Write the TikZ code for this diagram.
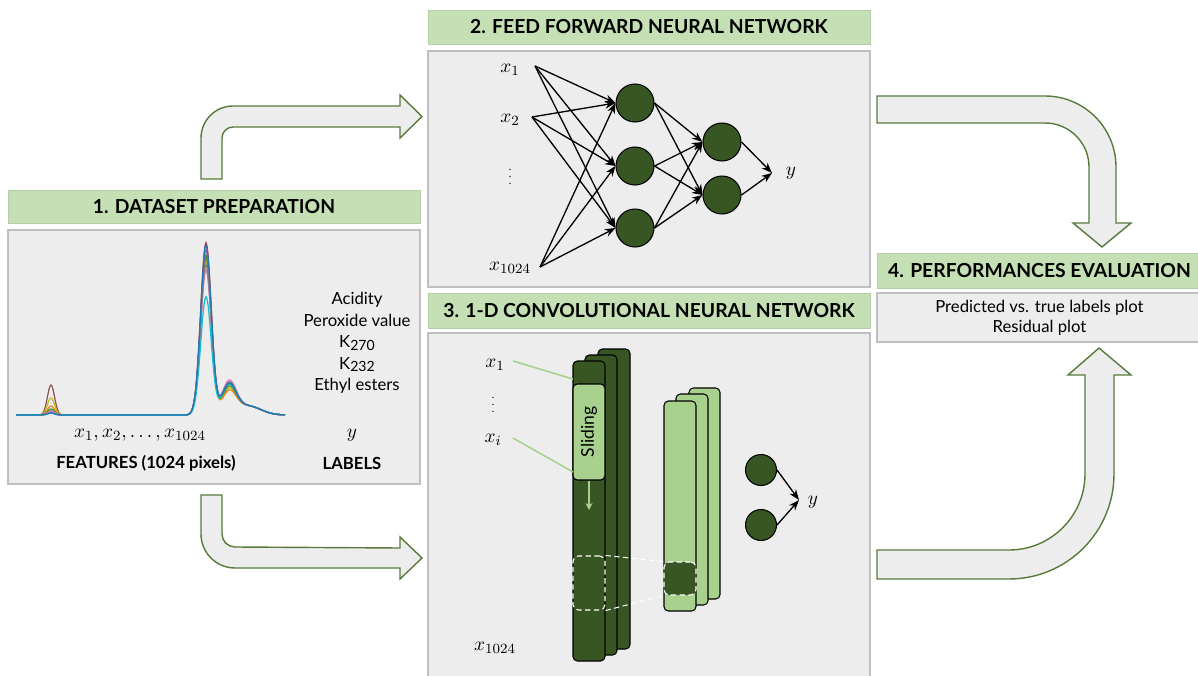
\documentclass[tikz,border=0pt]{standalone}
\usepackage{fontspec}
\setmainfont{Lato}
\usetikzlibrary{arrows.meta}
\definecolor{vertentete}{HTML}{C5E0B4}
\definecolor{vertfonce}{HTML}{375623}
\definecolor{vertclair}{HTML}{A9D18E}
\definecolor{fondgris}{HTML}{EDEDED}
\definecolor{bordgris}{HTML}{BFBFBF}
\definecolor{bordfleche}{HTML}{587A3C}
\definecolor{tbleu}{HTML}{1F77B4}
\definecolor{torange}{HTML}{FF7F0E}
\definecolor{tvert}{HTML}{2CA02C}
\definecolor{trouge}{HTML}{D62728}
\definecolor{tviolet}{HTML}{9467BD}
\definecolor{tbrun}{HTML}{8C564B}
\definecolor{trose}{HTML}{E377C2}
\definecolor{tgris}{HTML}{7F7F7F}
\definecolor{tolive}{HTML}{BCBD22}
\definecolor{tcyan}{HTML}{17BECF}
\begin{document}
\begin{tikzpicture}[x=0.02cm, y=-0.02cm, >={Stealth[length=6pt, width=4.5pt]}]
\tikzstyle{entete}=[fill=vertentete, draw=vertentete!80!gray, inner sep=0, font=\bfseries\fontsize{11}{13}\selectfont];
\tikzstyle{cadre}=[fill=fondgris, draw=bordgris, line width=0.8pt, inner sep=0];
\tikzstyle{texte}=[font=\fontsize{9.5}{12.2}\selectfont, align=center];
\tikzstyle{gras}=[font=\bfseries\fontsize{9.5}{12}\selectfont];
\tikzstyle{maths}=[font=\fontsize{11}{12}\selectfont, inner sep=1pt];
\tikzstyle{points}=[font=\fontsize{6}{6}\selectfont, inner sep=0];
\tikzstyle{fleche}=[fill=fondgris, draw=bordfleche, line width=0.8pt, line join=miter];
\tikzstyle{noeud}=[draw, circle, fill=vertfonce, line width=0.6pt, minimum size=0.76cm, inner sep=0];
\tikzstyle{lien}=[->, line width=0.75pt];
\tikzstyle{colfonce}=[draw, fill=vertfonce, rounded corners=2.5pt, line width=0.6pt];
\tikzstyle{colclaire}=[draw, fill=vertclair, rounded corners=2.5pt, line width=0.6pt];
\tikzstyle{pointille}=[draw=white, dash pattern=on 3pt off 2pt, line width=0.6pt];
\useasboundingbox (0,0) rectangle (1198,676);

% cadres
\node[entete, minimum width=8.24cm, minimum height=0.66cm] (t1) at (214,206.5) {1. DATASET PREPARATION};
\node[cadre, minimum width=8.24cm, minimum height=5.08cm] (b1) at (214,357) {};
\node[entete, minimum width=8.84cm, minimum height=0.68cm] (t2) at (649,27) {2. FEED FORWARD NEURAL NETWORK};
\node[cadre, minimum width=8.84cm, minimum height=4.72cm] (b2) at (649,169) {};
\node[entete, minimum width=8.84cm, minimum height=0.7cm] (t3) at (649,310.5) {3. 1-D CONVOLUTIONAL NEURAL NETWORK};
\node[cadre, minimum width=8.84cm, minimum height=6.94cm] (b3) at (649,506.5) {};
\node[entete, minimum width=6.5cm, minimum height=0.7cm] (t4) at (1039.5,270.5) {4. PERFORMANCES EVALUATION};
\node[cadre, texte, minimum width=6.5cm, minimum height=0.98cm, font=\fontsize{9.5}{11.3}\selectfont] (perf) at (1039.5,317.5) {Predicted vs. true labels plot\\Residual plot};

% grosses fleches
\draw[fleche] (201,179) -- (201,138) arc[start angle=180, end angle=270, radius=32] -- (400,106) -- (400,95) -- (422,116.5) -- (400,138) -- (400,127) -- (233,127) arc[start angle=270, end angle=180, radius=11] -- (222,179) -- cycle;
\draw[fleche] (201,495) -- (222,495) -- (222,534) arc[start angle=180, end angle=90, radius=13] -- (400,548) -- (400,537) -- (422,558) -- (400,579) -- (400,568) -- (235,568) arc[start angle=90, end angle=180, radius=34] -- cycle;
\draw[fleche] (877,96) -- (1045,96) arc[start angle=270, end angle=360, radius=71] -- (1116,223) -- (1131,223) -- (1102,247) -- (1073,223) -- (1089,223) -- (1089,167) arc[start angle=0, end angle=-90, radius=44] -- (877,123) -- cycle;
\draw[fleche] (877,579) -- (1009,579) arc[start angle=90, end angle=0, radius=105] -- (1114,375) -- (1131,375) -- (1099,348) -- (1068,375) -- (1085,375) -- (1085,474) arc[start angle=0, end angle=90, radius=76] -- (877,550) -- cycle;

% 1. spectres
\foreach \coul/\hp/\hs/\ep in {tbrun/160/30/28, tolive/150/17/24, torange/155/9/22, tvert/158/6/26, trouge/172/4/28, tviolet/165/3/30, trose/145/4/32, tgris/150/2/30, tcyan/118/2/28, tbleu/170/2/29}
  \draw[\coul, line width=0.7pt] plot[domain=16:285, samples=270] (\x, {415 - \hp*exp(-min(((\x-206)/7.5)^2,30)) - \ep*exp(-min(((\x-229)/10)^2,30)) - 9*exp(-min(((\x-248)/18)^2,30)) - \hs*exp(-min(((\x-51)/5)^2,30))});
\node[texte] (cibles) at (357,343) {Acidity\\Peroxide value\\K{\footnotesize\raisebox{-0.35ex}{270}}\\K{\footnotesize\raisebox{-0.35ex}{232}}\\Ethyl esters};
\node[maths] (vars) at (140,435) {$x_1, x_2, \ldots, x_{1024}$};
\node[gras] (features) at (146,463) {FEATURES (1024 pixels)};
\node[maths] (ylab) at (352,435) {$y$};
\node[gras] (labels) at (352,463) {LABELS};

% 2. reseau dense
\node[maths] (fx1) at (510,70) {$x_1$};
\node[maths] (fx2) at (510,120) {$x_2$};
\node[points] (fdots) at (510,172) {$\vdots$};
\node[maths] (fxn) at (510,268) {$x_{1024}$};
\coordinate (e1) at (535,66);
\coordinate (e2) at (532,117);
\coordinate (e3) at (540,267);
\node[noeud] (h1) at (635,103) {};
\node[noeud] (h2) at (635,166) {};
\node[noeud] (h3) at (635,228) {};
\node[noeud] (o1) at (722,142) {};
\node[noeud] (o2) at (722,195) {};
\coordinate (sf) at (772,173);
\node[maths] (fy) at (791,173) {$y$};

\draw[lien] (e1) -- (h1.west);
\draw[lien] (e1) -- (h2.west);
\draw[lien] (e1) -- (h3.west);
\draw[lien] (e2) -- (h1.west);
\draw[lien] (e2) -- (h2.west);
\draw[lien] (e2) -- (h3.west);
\draw[lien] (e3) -- (h1.west);
\draw[lien] (e3) -- (h2.west);
\draw[lien] (e3) -- (h3.west);
\draw[lien] (h1.east) -- (o1.west);
\draw[lien] (h1.east) -- (o2.west);
\draw[lien] (h2.east) -- (o1.west);
\draw[lien] (h2.east) -- (o2.west);
\draw[lien] (h3.east) -- (o1.west);
\draw[lien] (h3.east) -- (o2.west);
\draw[lien] (o1.east) -- (sf);
\draw[lien] (o2.east) -- (sf);

% 3. reseau convolutif
\node[maths] (cx1) at (495,365) {$x_1$};
\node[points] (cdots) at (493,400) {$\vdots$};
\node[maths] (cxi) at (493,440) {$x_i$};
\node[maths] (cxn) at (495,648) {$x_{1024}$};
\draw[colfonce] (598,349) rectangle (630,649);
\draw[colfonce] (585,355) rectangle (617,655);
\draw[colfonce] (573,361) rectangle (605,661);
\draw[colclaire] (689,388) rectangle (720,599);
\draw[colclaire] (676,394) rectangle (708,605);
\draw[colclaire] (664,401) rectangle (696,611);
\node[colclaire, rotate=90, minimum width=1.92cm, minimum height=0.64cm, inner sep=0, font=\fontsize{10}{11}\selectfont] (glisse) at (589,432) {Sliding};
\coordinate (glissefin) at (589,510);
\draw[->, vertclair, line width=0.8pt, >={Stealth[length=4pt, width=4pt]}] (glisse.west) -- (glissefin);
\coordinate (l1) at (513,361);
\coordinate (a1) at (573,379);
\coordinate (l2) at (513,438);
\coordinate (a2) at (573,472);
\draw[vertclair, line width=0.9pt] (l1) -- (a1);
\draw[vertclair, line width=0.9pt] (l2) -- (a2);
\node[pointille, rounded corners=3pt, minimum width=0.64cm, minimum height=1.08cm, inner sep=0] (fenetre) at (589,583) {};
\node[pointille, fill=vertfonce, rounded corners=3pt, minimum width=0.64cm, minimum height=0.66cm, inner sep=0] (carte) at (680,578.5) {};
\draw[pointille] (fenetre.north east) -- (carte.north west);
\draw[pointille] (fenetre.south east) -- (carte.south west);
\node[noeud, minimum size=0.62cm] (c1) at (761,470) {};
\node[noeud, minimum size=0.62cm] (c2) at (761,525) {};
\coordinate (sc) at (799,500);
\node[maths] (cy) at (813,502) {$y$};
\draw[lien] (c1.east) -- (sc);
\draw[lien] (c2.east) -- (sc);
\end{tikzpicture}
\end{document}
